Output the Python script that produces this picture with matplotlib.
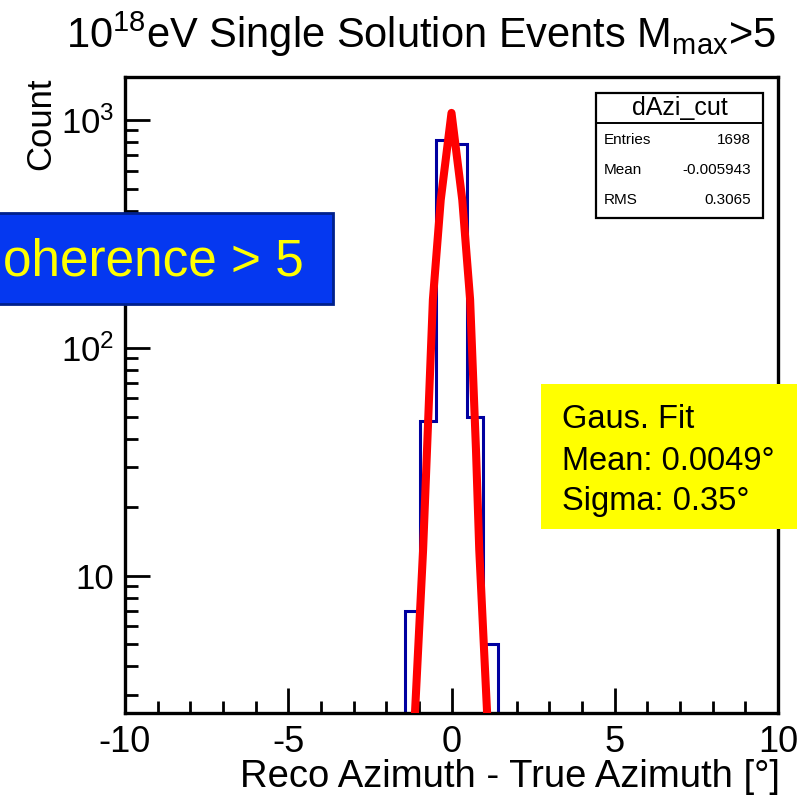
import matplotlib
matplotlib.use("Agg")
import matplotlib.pyplot as plt
import matplotlib.patches as patches
from matplotlib.ticker import FixedLocator, FixedFormatter, MultipleLocator, LogLocator, NullFormatter

plt.rcParams['font.family'] = ['Liberation Sans', 'DejaVu Sans']
plt.rcParams['mathtext.fontset'] = 'custom'
plt.rcParams['mathtext.rm'] = 'Liberation Sans'
plt.rcParams['mathtext.it'] = 'Liberation Sans:italic'
plt.rcParams['axes.unicode_minus'] = False

# histogram (42 bins over -10..10, only the filled ones)
bin_edges = [-1.43, -0.95, -0.48, 0.0, 0.48, 0.95, 1.43]
counts = [7, 48, 817, 782, 50, 5]

# red fit curve
fit_x = [-1.18, -0.87, -0.75, -0.57, -0.33, 0.0, 0.33, 0.57, 0.75, 0.85, 1.15]
fit_y = [1.66, 13.0, 35.7, 163, 446, 1075, 446, 163, 35.7, 13.0, 1.66]

x_ticks = [-10, -5, 0, 5, 10]
x_tick_labels = ["-10", "-5", "0", "5", "10"]
y_ticks = [10, 100, 1000]
y_tick_labels = ["10", r"$\mathregular{10^{2}}$", r"$\mathregular{10^{3}}$"]

stats_name = "dAzi_cut"
stats_rows = [("Entries", "1698"), ("Mean", "-0.005943"), ("RMS", "0.3065")]
fit_lines = ["Gaus. Fit", "Mean: 0.0049\u00b0", "Sigma: 0.35\u00b0"]

W, H = 797, 795

def fx(px):
    return px / W

def fy(py):
    return 1 - py / H

fig = plt.figure(figsize=(W / 100, H / 100), dpi=100)
ax = fig.add_axes([fx(125), fy(713), (778 - 125) / W, (713 - 77) / H])

ax.set_yscale('log')
ax.set_xlim(-10, 10)
ax.set_ylim(2.5, 1545)

ax.stairs(counts, bin_edges, baseline=1e-3, color='#0000a0', lw=2.2, zorder=2)
ax.plot(fit_x, fit_y, color='#ff0000', lw=5.8, zorder=3, solid_capstyle='butt')

ax.xaxis.set_major_locator(FixedLocator(x_ticks))
ax.xaxis.set_major_formatter(FixedFormatter(x_tick_labels))
ax.xaxis.set_minor_locator(MultipleLocator(1))
ax.yaxis.set_major_locator(FixedLocator(y_ticks))
ax.yaxis.set_major_formatter(FixedFormatter(y_tick_labels))
ax.yaxis.set_minor_locator(LogLocator(base=10, subs=[2, 3, 4, 5, 6, 7, 8, 9]))
ax.yaxis.set_minor_formatter(NullFormatter())

ax.tick_params(which='major', direction='in', length=18, width=2, top=False, right=False)
ax.tick_params(which='minor', direction='in', length=9, width=2, top=False, right=False)
ax.tick_params(axis='x', labelsize=26, pad=9)
ax.tick_params(axis='y', labelsize=25, pad=8)
for s in ax.spines.values():
    s.set_linewidth(2.4)

# title and axis titles
fig.text(fx(421), fy(48),
         r"$\mathregular{10^{18}}$eV Single Solution Events M$_{\mathregular{max}}$>5",
         ha='center', va='baseline', fontsize=30)
fig.text(fx(41), fy(78), "Count", rotation=90, ha='center', va='top', fontsize=25)
fig.text(fx(780), fy(787), "Reco Azimuth - True Azimuth [\u00b0]",
         ha='right', va='baseline', fontsize=27.5)

# stats box
box = patches.Rectangle((fx(596), fy(218)), (763 - 596) / W, (218 - 93) / H,
                        transform=fig.transFigure, facecolor='white',
                        edgecolor='black', lw=1.6, zorder=5)
fig.add_artist(box)
fig.add_artist(plt.Line2D([fx(596), fx(763)], [fy(123), fy(123)],
                          transform=fig.transFigure, color='black', lw=1.4, zorder=6))
fig.text(fx(679.5), fy(108), stats_name, ha='center', va='center', fontsize=18, zorder=7)
row_y = [140, 170.5, 200.5]
for (lab, val), yy in zip(stats_rows, row_y):
    fig.text(fx(604), fy(yy), lab, ha='left', va='center', fontsize=11, zorder=7)
    fig.text(fx(751), fy(yy), val, ha='right', va='center', fontsize=11, zorder=7)

# blue label box, cut at the left edge
blue = patches.Rectangle((fx(-10), fy(304)), (333 + 10) / W, (304 - 213) / H,
                         transform=fig.transFigure, facecolor='#0538f0',
                         edgecolor='#00208c', lw=2, zorder=5)
fig.add_artist(blue)
fig.text(fx(3), fy(262), "oherence > 5", ha='left', va='center',
         fontsize=37, color='#ffff00', zorder=7)

# yellow fit box
yellow = patches.Rectangle((fx(541), fy(529)), (W - 541 + 5) / W, (529 - 384) / H,
                           transform=fig.transFigure, facecolor='#ffff00',
                           edgecolor='none', zorder=5)
fig.add_artist(yellow)
for line, yy in zip(fit_lines, [428, 470, 510]):
    fig.text(fx(562), fy(yy), line, ha='left', va='baseline', fontsize=23.5, zorder=7)

fig.savefig("out.png", dpi=100)
